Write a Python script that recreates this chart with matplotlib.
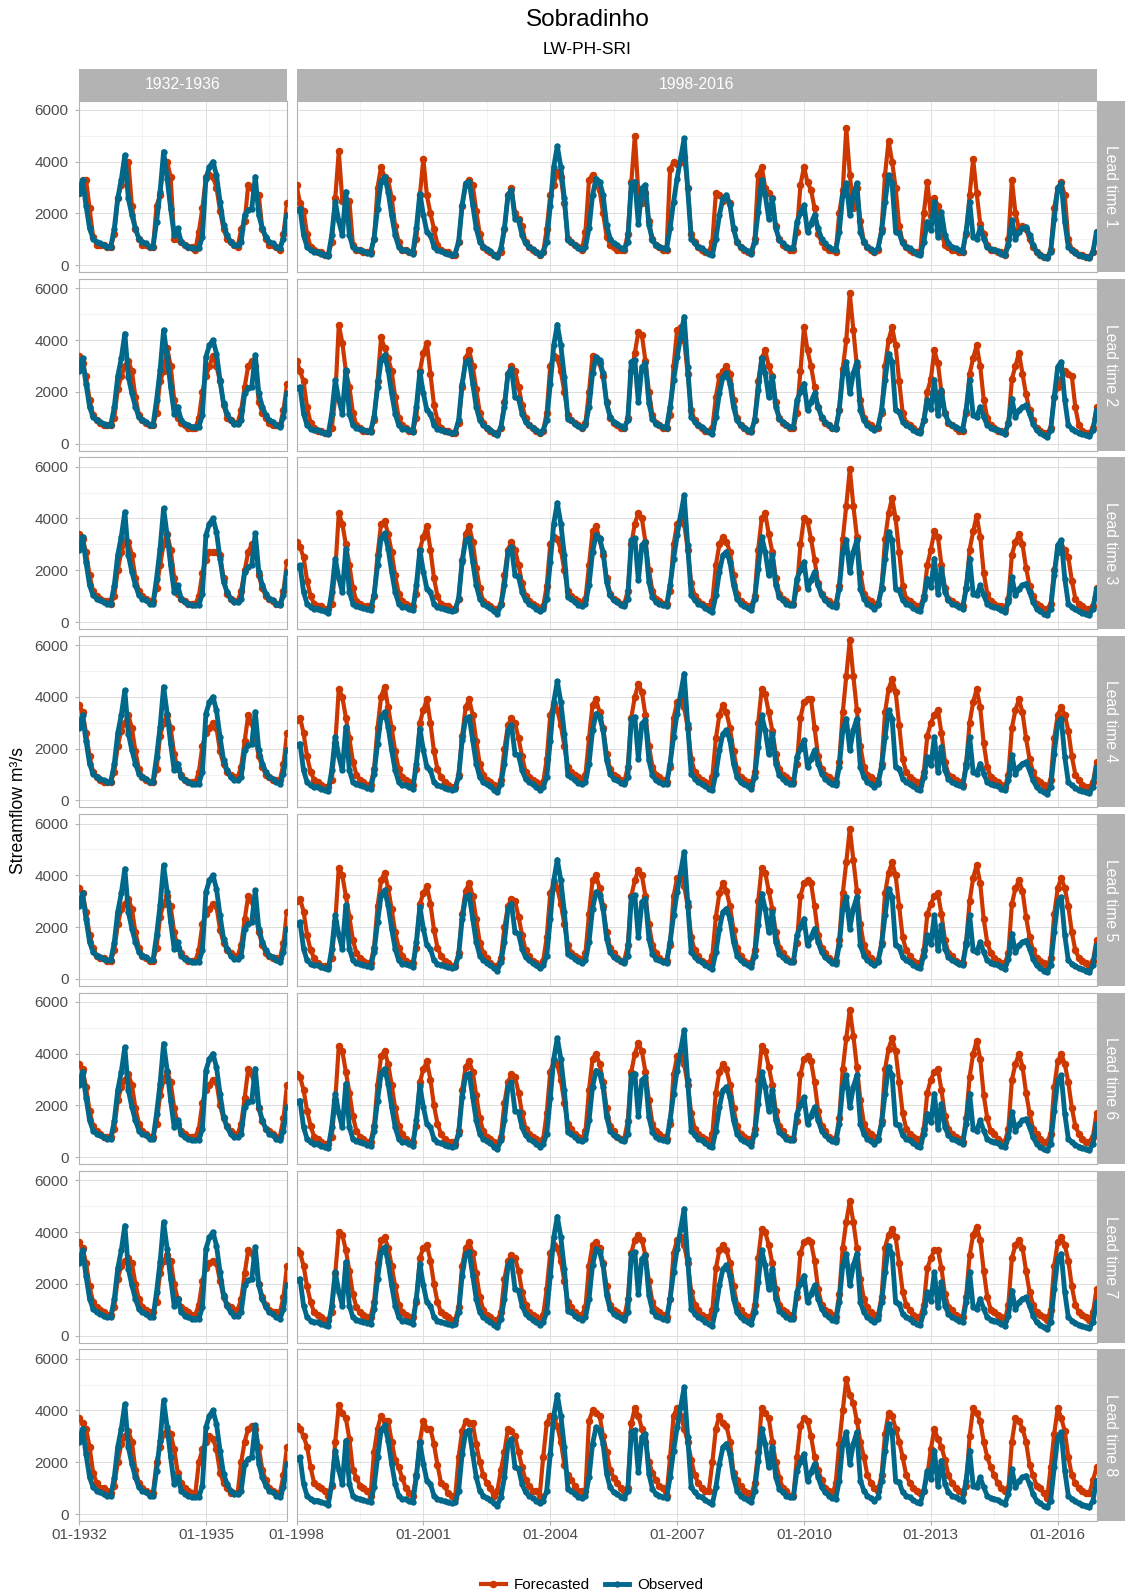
import matplotlib
matplotlib.use("Agg")
import matplotlib.pyplot as plt
import numpy as np
from matplotlib.lines import Line2D
from matplotlib.patches import Rectangle

# ── style ─────────────────────────────────────────────────────────────────────
plt.rcParams.update({
    "font.family": ["Liberation Sans", "DejaVu Sans"],
    "axes.linewidth": 0.8,
})

ORANGE = "#CD3700"   # orangered3
BLUE   = "#00688B"   # deepskyblue4
STRIP  = "#B3B3B3"
BORDER = "#B3B3B3"
GRID_MAJ = "#DEDEDE"
GRID_MIN = "#EEEEEE"
TICKTXT = "#4D4D4D"

# ── data ──────────────────────────────────────────────────────────────────────
PERIODS = ["1932-1936", "1998-2016"]
LEADS = [1, 2, 3, 4, 5, 6, 7, 8]

XTICKS_1932 = [0, 36]
XLABELS_1932 = ["01-1932", "01-1935"]
XTICKS_1998 = [0, 36, 72, 108, 144, 180, 216]
XLABELS_1998 = ["01-1998", "01-2001", "01-2004", "01-2007", "01-2010", "01-2013", "01-2016"]

# observed streamflow, m3/s, monthly from January
OBS_1932 = [
    2800, 3300, 2300, 1420, 1030, 900, 840, 770, 710, 710, 1400, 2600,
    3300, 4250, 2580, 1940, 1420, 1030, 900, 840, 710, 710, 1680, 2840,
    4390, 3350, 2190, 1160, 1420, 900, 770, 710, 650, 650, 650, 1100,
    3350, 3800, 4000, 3480, 2450, 1550, 1160, 900, 770, 770, 900, 1940,
    2130, 2190, 3420, 1940, 1420, 1100, 900, 840, 710, 650, 1030, 1940,
]
OBS_1998 = [
    2130, 2190, 1160, 710, 580, 520, 520, 450, 410, 360, 1160, 2450,
    1700, 1160, 2840, 1160, 710, 620, 580, 540, 490, 450, 1030, 2190,
    3230, 3420, 2840, 1940, 1160, 710, 580, 580, 520, 450, 1420, 2770,
    1940, 1290, 1160, 710, 580, 540, 490, 450, 410, 450, 900, 2320,
    3160, 3230, 2320, 1420, 900, 710, 620, 540, 410, 320, 650, 1420,
    2700, 2900, 1800, 1740, 1160, 840, 710, 620, 520, 410, 520, 900,
    2300, 3800, 4600, 3800, 2580, 970, 900, 770, 670, 620, 710, 1420,
    2710, 3350, 3230, 2710, 1550, 1030, 840, 770, 670, 620, 900, 3160,
    3230, 1610, 2970, 3100, 1550, 970, 770, 710, 650, 620, 1420, 2450,
    3350, 4130, 4900, 2970, 1030, 840, 710, 650, 540, 450, 390, 1030,
    1940, 2580, 2710, 2320, 1420, 900, 710, 620, 540, 450, 900, 2060,
    3290, 2710, 1800, 2580, 1420, 970, 840, 710, 650, 650, 1680, 2000,
    2320, 1290, 1610, 1940, 1420, 1030, 840, 710, 620, 580, 1290, 2710,
    3160, 1940, 2710, 3160, 1290, 900, 710, 620, 520, 650, 1290, 2450,
    3480, 3160, 1290, 1230, 840, 710, 650, 540, 450, 410, 900, 1680,
    1350, 2450, 1100, 2060, 1160, 840, 710, 650, 580, 520, 1290, 2450,
    1100, 1030, 1420, 1030, 710, 620, 580, 540, 450, 390, 770, 1740,
    1030, 1290, 1420, 1480, 1160, 770, 520, 410, 320, 260, 520, 1800,
    2970, 3160, 1680, 710, 580, 490, 410, 360, 320, 280, 520, 1290,
]

# forecasted streamflow, hundreds of m3/s, one list per lead time and period
FC1_1932 = [
    28, 33, 33, 22, 11, 8, 8, 8, 7, 7, 12, 26,
    31, 36, 40, 23, 14, 10, 8, 8, 7, 7, 23, 27,
    40, 40, 34, 10, 10, 9, 8, 7, 7, 6, 13, 22,
    34, 35, 34, 30, 21, 14, 10, 9, 8, 7, 14, 17,
    31, 30, 27, 27, 14, 10, 8, 8, 7, 6, 12, 24,
]
FC1_1998 = [
    31, 24, 21, 12, 7, 6, 5, 5, 4, 4, 9, 26,
    44, 25, 23, 25, 8, 6, 6, 5, 5, 5, 10, 30,
    38, 34, 33, 26, 15, 9, 6, 6, 5, 5, 10, 27,
    41, 27, 20, 14, 8, 6, 5, 5, 4, 4, 9, 23,
    31, 33, 31, 21, 12, 7, 6, 5, 4, 4, 5, 14,
    27, 30, 20, 18, 15, 9, 7, 6, 5, 4, 5, 14,
    27, 31, 36, 34, 24, 10, 9, 8, 7, 6, 13, 33,
    35, 31, 29, 20, 11, 8, 7, 6, 6, 6, 12, 32,
    50, 28, 24, 28, 17, 10, 8, 7, 6, 6, 37, 40,
    39, 40, 42, 30, 12, 9, 7, 6, 5, 5, 9, 28,
    27, 25, 26, 24, 14, 9, 7, 6, 5, 5, 10, 35,
    38, 30, 28, 26, 15, 10, 8, 7, 6, 6, 13, 31,
    38, 32, 29, 22, 12, 9, 7, 6, 6, 5, 20, 29,
    53, 35, 22, 30, 17, 9, 7, 6, 5, 6, 14, 35,
    48, 40, 30, 15, 9, 7, 6, 5, 5, 5, 20, 32,
    19, 26, 23, 12, 8, 7, 6, 6, 5, 5, 12, 27,
    41, 28, 16, 12, 8, 6, 6, 5, 5, 4, 10, 33,
    20, 14, 15, 14, 10, 7, 5, 4, 3, 3, 6, 22,
    30, 32, 27, 10, 6, 5, 4, 4, 3, 3, 5, 13,
]
FC2_1932 = [
    34, 31, 26, 17, 11, 9, 8, 7, 7, 7, 10, 21,
    26, 30, 32, 28, 18, 11, 9, 8, 7, 7, 12, 24,
    28, 37, 30, 17, 10, 8, 7, 6, 6, 6, 10, 20,
    26, 30, 34, 30, 24, 15, 10, 9, 8, 8, 13, 22,
    30, 32, 30, 16, 12, 10, 8, 7, 7, 7, 13, 23,
]
FC2_1998 = [
    32, 28, 24, 14, 8, 6, 5, 5, 4, 4, 6, 18,
    46, 39, 28, 22, 12, 7, 6, 5, 5, 5, 9, 24,
    41, 37, 33, 28, 18, 10, 7, 6, 5, 5, 10, 28,
    35, 39, 27, 15, 9, 6, 5, 5, 4, 4, 8, 22,
    33, 36, 30, 21, 12, 8, 6, 5, 4, 4, 6, 16,
    27, 30, 28, 22, 15, 10, 7, 6, 5, 4, 5, 12,
    30, 34, 33, 28, 20, 11, 9, 8, 7, 6, 8, 20,
    34, 33, 31, 26, 16, 10, 8, 7, 6, 6, 10, 28,
    35, 43, 42, 32, 20, 11, 8, 7, 6, 6, 11, 30,
    44, 45, 40, 27, 13, 9, 7, 6, 5, 5, 6, 18,
    26, 28, 30, 27, 17, 10, 7, 6, 5, 5, 9, 24,
    33, 36, 30, 26, 16, 10, 8, 7, 6, 6, 12, 28,
    45, 36, 30, 22, 14, 10, 8, 7, 6, 6, 13, 29,
    40, 58, 44, 30, 17, 10, 8, 7, 6, 6, 12, 30,
    40, 45, 38, 24, 12, 8, 7, 6, 5, 5, 9, 20,
    25, 36, 31, 20, 12, 8, 7, 6, 5, 5, 12, 27,
    33, 38, 30, 17, 10, 7, 6, 5, 5, 4, 8, 25,
    30, 35, 27, 19, 13, 9, 6, 5, 4, 4, 6, 18,
    22, 25, 28, 27, 26, 14, 7, 5, 4, 4, 6, 14,
]
FC3_1932 = [
    34, 32, 27, 18, 12, 10, 9, 8, 8, 7, 10, 20,
    27, 31, 31, 26, 17, 12, 10, 9, 8, 8, 13, 22,
    30, 34, 28, 17, 11, 9, 8, 7, 7, 7, 10, 19,
    24, 27, 27, 27, 26, 17, 11, 9, 8, 8, 12, 20,
    27, 30, 28, 18, 13, 10, 9, 8, 7, 7, 12, 23,
]
FC3_1998 = [
    31, 29, 25, 16, 10, 7, 6, 6, 5, 5, 7, 20,
    42, 38, 30, 22, 13, 8, 7, 6, 6, 6, 10, 26,
    38, 39, 34, 27, 18, 11, 8, 7, 6, 6, 11, 28,
    33, 37, 28, 17, 10, 7, 6, 6, 5, 5, 9, 24,
    34, 37, 31, 21, 13, 8, 7, 6, 5, 5, 7, 18,
    28, 31, 28, 22, 15, 10, 8, 7, 6, 5, 6, 14,
    30, 33, 32, 28, 20, 12, 10, 9, 8, 7, 9, 22,
    35, 37, 32, 26, 17, 11, 9, 8, 7, 7, 12, 30,
    38, 42, 40, 31, 20, 12, 9, 8, 7, 7, 12, 30,
    38, 40, 38, 28, 15, 10, 8, 7, 6, 6, 8, 22,
    30, 33, 31, 27, 18, 11, 8, 7, 6, 6, 10, 28,
    40, 42, 34, 27, 17, 11, 9, 8, 7, 7, 13, 30,
    40, 39, 32, 24, 15, 11, 9, 8, 7, 7, 14, 32,
    45, 59, 45, 33, 19, 11, 9, 8, 7, 7, 13, 32,
    42, 48, 40, 27, 14, 9, 8, 7, 6, 6, 10, 22,
    28, 35, 33, 22, 13, 9, 8, 7, 6, 6, 13, 28,
    35, 41, 33, 19, 11, 8, 7, 6, 6, 5, 9, 26,
    31, 34, 30, 21, 14, 10, 7, 6, 5, 5, 7, 20,
    27, 29, 28, 25, 16, 9, 7, 6, 5, 5, 6, 13,
]
FC4_1932 = [
    37, 34, 26, 17, 11, 9, 8, 7, 7, 7, 11, 21,
    27, 30, 33, 28, 19, 12, 9, 8, 7, 7, 12, 25,
    30, 33, 28, 18, 12, 10, 8, 7, 7, 7, 11, 21,
    26, 28, 30, 28, 19, 14, 11, 10, 9, 9, 13, 23,
    33, 30, 24, 17, 13, 10, 9, 8, 8, 8, 14, 26,
]
FC4_1998 = [
    31, 32, 26, 17, 11, 8, 7, 6, 5, 5, 8, 22,
    43, 40, 32, 24, 15, 10, 8, 7, 6, 6, 12, 28,
    40, 44, 36, 28, 19, 12, 9, 8, 7, 6, 12, 30,
    35, 39, 30, 19, 12, 9, 7, 6, 5, 5, 10, 25,
    36, 39, 33, 23, 14, 10, 8, 7, 6, 5, 8, 20,
    29, 32, 30, 24, 17, 11, 9, 8, 7, 6, 7, 16,
    33, 37, 35, 29, 21, 13, 11, 10, 9, 8, 10, 24,
    37, 39, 34, 28, 18, 12, 10, 9, 8, 7, 13, 32,
    40, 45, 42, 33, 21, 13, 10, 9, 8, 7, 13, 32,
    38, 39, 36, 28, 16, 11, 9, 8, 7, 6, 9, 24,
    33, 37, 34, 28, 19, 12, 9, 8, 7, 6, 11, 30,
    43, 41, 34, 27, 18, 12, 10, 9, 8, 7, 14, 32,
    38, 39, 39, 28, 17, 12, 10, 9, 8, 7, 15, 34,
    48, 62, 48, 35, 21, 13, 10, 9, 8, 7, 14, 34,
    43, 47, 42, 29, 16, 11, 9, 8, 7, 6, 11, 25,
    30, 33, 35, 26, 15, 10, 9, 8, 7, 6, 14, 30,
    38, 43, 36, 22, 13, 9, 8, 7, 6, 5, 10, 28,
    35, 39, 34, 24, 16, 11, 8, 7, 6, 5, 8, 24,
    33, 36, 33, 27, 17, 10, 8, 6, 5, 5, 7, 15,
]
FC5_1932 = [
    35, 33, 26, 17, 12, 9, 8, 8, 7, 7, 11, 21,
    27, 29, 31, 27, 18, 12, 9, 8, 7, 7, 12, 24,
    29, 32, 28, 18, 12, 10, 8, 7, 7, 7, 11, 21,
    25, 27, 29, 28, 19, 14, 11, 10, 9, 9, 13, 23,
    32, 30, 25, 18, 13, 10, 9, 8, 8, 8, 14, 26,
]
FC5_1998 = [
    30, 31, 26, 17, 11, 8, 6, 5, 5, 5, 8, 22,
    43, 40, 32, 24, 15, 10, 8, 7, 6, 6, 12, 28,
    38, 41, 35, 27, 18, 12, 9, 7, 6, 6, 12, 29,
    33, 36, 29, 19, 12, 9, 7, 6, 5, 5, 10, 25,
    34, 37, 32, 23, 14, 10, 8, 6, 5, 5, 8, 20,
    28, 31, 30, 24, 17, 11, 9, 7, 6, 5, 7, 16,
    33, 37, 35, 29, 21, 13, 10, 9, 8, 7, 10, 25,
    38, 40, 35, 28, 18, 12, 10, 8, 7, 7, 13, 32,
    38, 42, 40, 32, 21, 13, 10, 8, 7, 7, 13, 32,
    39, 40, 36, 28, 16, 11, 9, 7, 6, 6, 9, 24,
    33, 37, 34, 28, 19, 12, 9, 7, 6, 6, 11, 30,
    43, 41, 34, 27, 18, 12, 10, 8, 7, 7, 14, 32,
    37, 38, 37, 28, 17, 12, 10, 8, 7, 7, 15, 33,
    45, 58, 46, 34, 21, 13, 10, 8, 7, 7, 14, 33,
    41, 45, 40, 28, 16, 11, 9, 7, 6, 6, 11, 25,
    29, 32, 33, 25, 15, 10, 9, 7, 6, 6, 14, 30,
    39, 44, 37, 23, 14, 10, 8, 7, 6, 6, 10, 29,
    35, 38, 34, 24, 16, 11, 8, 7, 6, 5, 8, 25,
    35, 39, 35, 28, 18, 11, 8, 7, 6, 5, 7, 15,
]
FC6_1932 = [
    36, 34, 27, 18, 12, 10, 9, 8, 8, 8, 11, 22,
    27, 30, 32, 28, 19, 13, 10, 9, 8, 8, 13, 24,
    30, 33, 29, 19, 13, 10, 9, 8, 8, 8, 11, 21,
    26, 28, 30, 29, 20, 15, 12, 10, 9, 9, 13, 23,
    34, 32, 27, 19, 14, 11, 10, 9, 8, 8, 15, 28,
]
FC6_1998 = [
    32, 31, 26, 18, 12, 8, 7, 6, 5, 5, 8, 22,
    43, 41, 33, 25, 16, 10, 8, 7, 6, 6, 12, 28,
    39, 41, 36, 28, 19, 12, 9, 7, 6, 6, 12, 29,
    34, 37, 30, 20, 13, 9, 7, 6, 6, 5, 10, 26,
    35, 37, 33, 24, 15, 10, 8, 7, 6, 5, 8, 21,
    29, 32, 31, 25, 17, 11, 9, 8, 7, 6, 7, 17,
    33, 37, 36, 30, 21, 13, 11, 9, 8, 7, 10, 26,
    38, 40, 36, 29, 19, 12, 10, 8, 7, 7, 14, 33,
    40, 44, 41, 33, 22, 13, 10, 9, 8, 7, 13, 32,
    39, 39, 36, 28, 17, 11, 9, 8, 7, 6, 9, 25,
    33, 36, 34, 28, 19, 12, 9, 8, 7, 6, 11, 30,
    43, 41, 35, 28, 18, 12, 10, 8, 7, 7, 14, 32,
    38, 39, 37, 29, 18, 12, 10, 8, 7, 7, 15, 34,
    46, 57, 47, 35, 22, 13, 10, 9, 8, 7, 14, 34,
    42, 46, 41, 29, 17, 11, 9, 8, 7, 6, 11, 25,
    30, 33, 34, 26, 16, 11, 9, 8, 7, 6, 15, 31,
    40, 45, 38, 24, 15, 10, 9, 7, 6, 6, 11, 30,
    36, 40, 35, 25, 17, 11, 9, 7, 6, 6, 9, 27,
    37, 40, 36, 29, 19, 12, 9, 7, 6, 6, 8, 17,
]
FC7_1932 = [
    36, 34, 28, 19, 13, 11, 10, 9, 8, 8, 11, 22,
    27, 29, 30, 28, 20, 14, 11, 10, 9, 9, 13, 24,
    29, 31, 29, 20, 14, 11, 10, 9, 8, 8, 12, 21,
    26, 28, 29, 28, 21, 15, 12, 11, 10, 10, 14, 24,
    33, 32, 28, 20, 15, 12, 10, 9, 9, 9, 15, 27,
]
FC7_1998 = [
    33, 32, 27, 19, 13, 9, 8, 7, 6, 6, 9, 24,
    40, 39, 33, 25, 16, 11, 9, 8, 7, 7, 13, 28,
    37, 38, 34, 27, 19, 12, 9, 8, 7, 7, 13, 30,
    34, 35, 29, 20, 13, 9, 8, 7, 6, 6, 11, 27,
    34, 36, 32, 24, 15, 10, 8, 7, 6, 6, 9, 22,
    29, 31, 30, 25, 17, 12, 9, 8, 7, 6, 8, 18,
    32, 35, 34, 29, 21, 13, 11, 9, 8, 8, 11, 27,
    35, 36, 34, 28, 19, 12, 10, 9, 8, 7, 14, 32,
    37, 39, 37, 31, 21, 13, 10, 9, 8, 7, 14, 32,
    37, 38, 35, 28, 17, 12, 10, 8, 7, 7, 10, 26,
    33, 35, 33, 28, 19, 12, 10, 8, 7, 7, 12, 30,
    41, 40, 35, 28, 18, 12, 10, 9, 8, 7, 15, 32,
    36, 37, 36, 29, 18, 12, 10, 9, 8, 7, 16, 34,
    44, 52, 44, 34, 22, 14, 11, 9, 8, 8, 15, 34,
    39, 41, 38, 28, 17, 12, 10, 8, 7, 7, 12, 26,
    30, 33, 33, 26, 16, 11, 10, 8, 7, 7, 15, 31,
    39, 42, 37, 25, 15, 10, 9, 8, 7, 6, 12, 30,
    35, 37, 34, 25, 17, 12, 9, 8, 7, 6, 10, 27,
    36, 38, 35, 29, 19, 12, 9, 8, 7, 6, 9, 18,
]
FC8_1932 = [
    37, 35, 33, 26, 16, 12, 10, 10, 9, 8, 11, 20,
    27, 30, 32, 28, 17, 12, 10, 9, 8, 8, 20, 26,
    31, 32, 31, 25, 16, 12, 10, 9, 8, 8, 20, 25,
    28, 30, 29, 25, 16, 12, 10, 8, 8, 8, 20, 28,
    33, 34, 33, 26, 17, 13, 10, 9, 8, 8, 15, 26,
]
FC8_1998 = [
    34, 33, 30, 26, 18, 12, 11, 10, 9, 7, 11, 28,
    42, 39, 37, 29, 17, 14, 11, 10, 9, 7, 24, 33,
    38, 36, 36, 28, 21, 18, 14, 10, 8, 7, 15, 28,
    36, 33, 33, 27, 19, 12, 11, 8, 7, 6, 22, 32,
    36, 35, 35, 27, 20, 15, 12, 10, 7, 9, 17, 24,
    33, 32, 30, 24, 18, 13, 11, 9, 9, 7, 22, 35,
    38, 37, 34, 28, 19, 15, 13, 11, 9, 9, 9, 36,
    40, 39, 38, 30, 24, 17, 14, 12, 10, 9, 10, 35,
    41, 38, 33, 28, 20, 16, 13, 11, 10, 7, 22, 38,
    41, 38, 33, 28, 21, 15, 12, 10, 9, 9, 20, 33,
    38, 35, 34, 28, 16, 13, 11, 9, 8, 7, 12, 24,
    41, 39, 37, 28, 20, 14, 10, 9, 7, 7, 22, 34,
    37, 36, 30, 22, 17, 13, 10, 9, 7, 12, 27, 40,
    52, 46, 43, 36, 28, 22, 15, 12, 10, 9, 15, 31,
    39, 38, 33, 28, 22, 15, 12, 10, 9, 8, 9, 15,
    25, 33, 29, 26, 21, 15, 12, 10, 9, 8, 11, 30,
    41, 39, 36, 28, 22, 18, 15, 12, 10, 9, 10, 28,
    37, 36, 33, 28, 19, 15, 11, 10, 8, 6, 18, 31,
    41, 37, 32, 22, 15, 12, 10, 9, 8, 8, 13, 18,
]

FC_1932 = [FC1_1932, FC2_1932, FC3_1932, FC4_1932, FC5_1932, FC6_1932, FC7_1932, FC8_1932]
FC_1998 = [FC1_1998, FC2_1998, FC3_1998, FC4_1998, FC5_1998, FC6_1998, FC7_1998, FC8_1998]

# ── layout (pixels of the 1125 x 1593 output) ──────────────────────────────────
W, H = 1125, 1593
PANEL_X = [(79, 208), (296.5, 800)]
ROW_TOP, ROW_H, ROW_STEP = 100.6, 171.6, 178.4
STRIP_TOP, STRIP_H = 69, 31.6
RSTRIP_X, RSTRIP_W = 1096.5, 28.5
YLIM = (-270, 6360)


def box(x, y, w, h):
    return [x / W, 1 - (y + h) / H, w / W, h / H]


fig = plt.figure(figsize=(W / 100, H / 100), dpi=100)
fig.patch.set_facecolor("white")

for r, lead in enumerate(LEADS):
    top = ROW_TOP + r * ROW_STEP
    for c in range(2):
        x0, w = PANEL_X[c]
        ax = fig.add_axes(box(x0, top, w, ROW_H))
        obs = OBS_1932 if c == 0 else OBS_1998
        fc = np.array(FC_1932[r] if c == 0 else FC_1998[r]) * 100
        months = np.arange(len(obs))

        ax.plot(months, fc, "-o", color=ORANGE, lw=3.0, ms=4.4, zorder=3,
                solid_joinstyle="round", solid_capstyle="round")
        ax.plot(months, obs, "-o", color=BLUE, lw=3.5, ms=3.6, zorder=4,
                solid_joinstyle="round", solid_capstyle="round")

        ax.set_xlim(0, len(obs) - 1)
        ax.set_ylim(*YLIM)

        xt = XTICKS_1932 if c == 0 else XTICKS_1998
        xl = XLABELS_1932 if c == 0 else XLABELS_1998
        ax.set_xticks(xt)
        ax.set_xticks([t + 18 for t in xt if t + 18 < len(obs)], minor=True)
        ax.set_yticks([0, 2000, 4000, 6000])
        ax.set_yticks([1000, 3000, 5000], minor=True)
        ax.grid(which="major", color=GRID_MAJ, lw=0.7, zorder=0)
        ax.grid(which="minor", color=GRID_MIN, lw=0.5, zorder=0)
        ax.set_axisbelow(True)

        for sp in ax.spines.values():
            sp.set_color(BORDER)
            sp.set_linewidth(0.8)

        ax.tick_params(which="minor", length=0)
        ax.tick_params(axis="both", which="major", colors=BORDER,
                       labelcolor=TICKTXT, labelsize=11, length=3, width=0.8)
        ax.tick_params(axis="y", pad=4.5)
        ax.tick_params(axis="x", pad=2)

        if c == 0:
            ax.set_yticklabels(["0", "2000", "4000", "6000"])
        else:
            ax.tick_params(axis="y", length=0, labelleft=False)

        if r == len(LEADS) - 1:
            ax.set_xticklabels(xl)
        else:
            ax.tick_params(axis="x", length=0, labelbottom=False)

    # right-hand strip
    fig.patches.append(Rectangle((RSTRIP_X / W, 1 - (top + ROW_H) / H),
                                 RSTRIP_W / W, ROW_H / H, transform=fig.transFigure,
                                 facecolor=STRIP, edgecolor="none"))
    fig.text((RSTRIP_X + RSTRIP_W / 2) / W, 1 - (top + ROW_H / 2) / H,
             f"Lead time {lead}", rotation=-90, ha="center", va="center",
             color="white", fontsize=11.3)

# top strips
for c, label in enumerate(PERIODS):
    x0, w = PANEL_X[c]
    fig.patches.append(Rectangle((x0 / W, 1 - (STRIP_TOP + STRIP_H) / H),
                                 w / W, STRIP_H / H, transform=fig.transFigure,
                                 facecolor=STRIP, edgecolor="none"))
    fig.text((x0 + w / 2) / W, 1 - (STRIP_TOP + STRIP_H / 2) / H, label,
             ha="center", va="center", color="white", fontsize=11.3)

# titles
fig.text(587.5 / W, 1 - 19.5 / H, "Sobradinho", ha="center", va="center",
         fontsize=17.5, color="black")
fig.text(587.5 / W, 1 - 49 / H, "LW-PH-SRI", ha="center", va="center",
         fontsize=12.5, color="black")
fig.text(18.5 / W, 1 - 811 / H, "Streamflow m³/s", rotation=90,
         ha="center", va="center", fontsize=12.7, color="black")

# legend
handles = [Line2D([0], [0], color=ORANGE, lw=3.0, marker="o", ms=4.4),
           Line2D([0], [0], color=BLUE, lw=3.5, marker="o", ms=3.6)]
fig.legend(handles, ["Forecasted", "Observed"], loc="center",
           bbox_to_anchor=(592 / W, 1 - 1585 / H), ncol=2, frameon=False,
           fontsize=11, handlelength=1.6, handletextpad=0.5, columnspacing=1.0)

fig.savefig("out.png", dpi=100, facecolor="white")
